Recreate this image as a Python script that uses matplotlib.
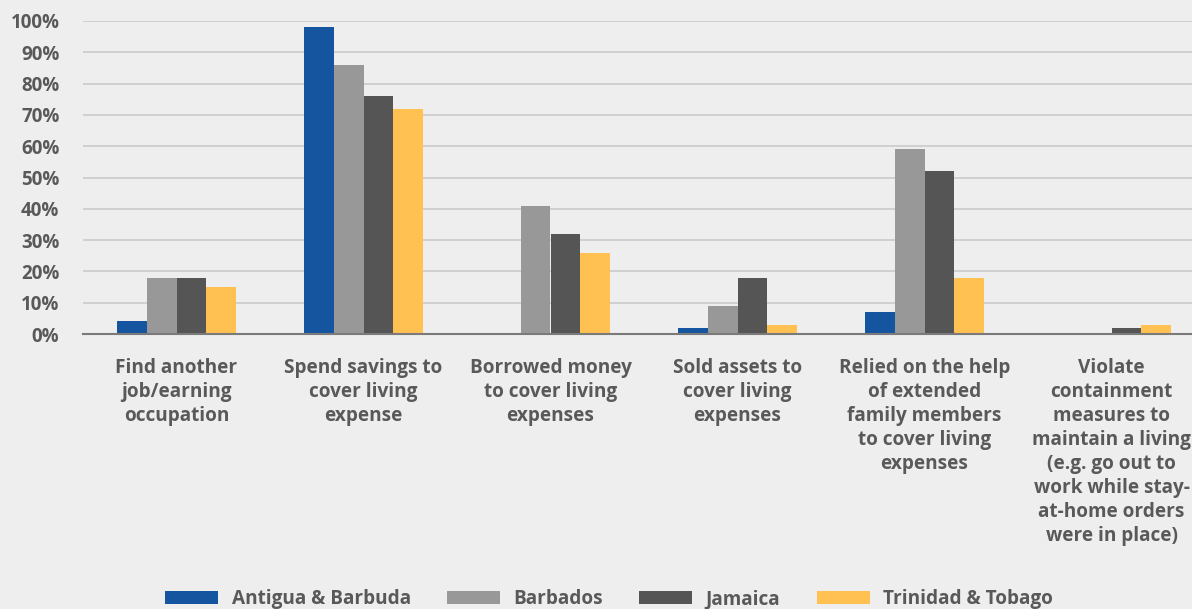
import matplotlib
matplotlib.use("Agg")
import matplotlib.pyplot as plt
import numpy as np
from matplotlib.patches import Patch

categories = [
    "Find another\njob/earning\noccupation",
    "Spend savings to\ncover living\nexpense",
    "Borrowed money\nto cover living\nexpenses",
    "Sold assets to\ncover living\nexpenses",
    "Relied on the help\nof extended\nfamily members\nto cover living\nexpenses",
    "Violate\ncontainment\nmeasures to\nmaintain a living\n(e.g. go out to\nwork while stay-\nat-home orders\nwere in place)",
]
series_names = ["Antigua & Barbuda", "Barbados", "Jamaica", "Trinidad & Tobago"]
antigua = [4, 98, 0, 2, 7, 0]
barbados = [18, 86, 41, 9, 59, 0]
jamaica = [18, 76, 32, 18, 52, 2]
trinidad = [15, 72, 26, 3, 18, 3]
yticks = [0, 10, 20, 30, 40, 50, 60, 70, 80, 90, 100]
ytick_labels = [f"{v}%" for v in yticks]

colors = ["#1555a0", "#989898", "#555555", "#ffc252"]
bg = "#eeeeee"
txt = "#595959"
plt.rcParams['font.family'] = ['Open Sans', 'DejaVu Sans']

W, H = 1192, 609
fig = plt.figure(figsize=(W / 100, H / 100), dpi=100, facecolor=bg)
ax = fig.add_axes([83 / W, (H - 334) / H, (187 * 6) / W, 313 / H])
ax.set_facecolor(bg)

x = np.arange(len(categories))
bw = 0.16
all_series = [antigua, barbados, jamaica, trinidad]
for i, (vals, c) in enumerate(zip(all_series, colors)):
    ax.bar(x + (i - 1.5) * bw, vals, width=bw, color=c, zorder=3)

ax.set_xlim(-0.5, len(categories) - 0.5)
ax.set_ylim(0, 100)
ax.set_yticks(yticks, ytick_labels)
ax.set_xticks(x, categories)
for lab in ax.get_yticklabels():
    lab.set_fontsize(13.5)
    lab.set_fontweight('bold')
    lab.set_color(txt)
for lab in ax.get_xticklabels():
    lab.set_fontsize(13.7)
    lab.set_fontweight('bold')
    lab.set_color(txt)
    lab.set_linespacing(1.27)
    lab.set_verticalalignment('top')
ax.tick_params(axis='y', length=0, pad=17)
ax.tick_params(axis='x', length=0, pad=17)
ax.grid(axis='y', color='#c8c8c8', linewidth=1.1, zorder=0)
for s in ['top', 'right', 'left']:
    ax.spines[s].set_visible(False)
ax.spines['bottom'].set_color('#7a7a7a')
ax.spines['bottom'].set_linewidth(1.5)
ax.spines['bottom'].set_zorder(4)

handles = [Patch(facecolor=c, edgecolor='none') for c in colors]
leg = fig.legend(handles, series_names, loc='center', bbox_to_anchor=(609 / W, 1 - 599 / H),
                 ncol=4, frameon=False, handlelength=2.8, handleheight=0.64,
                 handletextpad=0.7, columnspacing=1.9,
                 prop={'size': 13.7, 'weight': 'bold'})
for t in leg.get_texts():
    t.set_color(txt)

fig.savefig("out.png", dpi=100, facecolor=bg)
